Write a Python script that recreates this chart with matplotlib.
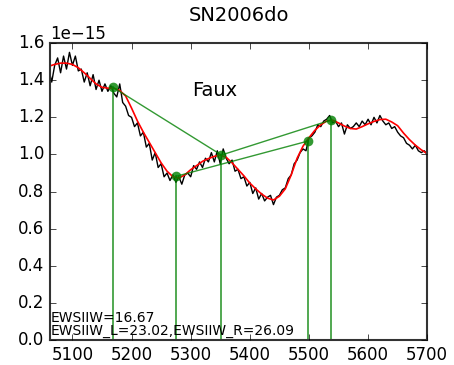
import numpy as np
import matplotlib
matplotlib.use('Agg')
import matplotlib.pyplot as plt

plt.style.use('classic')

# observed spectrum (flux in units of 1e-15), 5 A sampling
wave = np.arange(5060, 5701, 5)
flux = [1.46, 1.39, 1.48, 1.52, 1.44, 1.53, 1.46, 1.55, 1.48, 1.53,
        1.45, 1.46, 1.39, 1.44, 1.37, 1.43, 1.35, 1.40, 1.34, 1.38,
        1.34, 1.37, 1.33, 1.31, 1.38, 1.28, 1.26, 1.21, 1.20, 1.15,
        1.17, 1.10, 1.12, 1.04, 1.06, 0.97, 1.01, 0.93, 0.95, 0.88,
        0.90, 0.86, 0.89, 0.85, 0.88, 0.84, 0.89, 0.90, 0.88, 0.94,
        0.92, 0.96, 0.93, 0.98, 0.96, 1.01, 0.96, 1.02, 0.95, 1.03,
        0.98, 0.95, 0.97, 0.91, 0.92, 0.87, 0.88, 0.83, 0.85, 0.79,
        0.82, 0.76, 0.79, 0.75, 0.77, 0.78, 0.73, 0.77, 0.78, 0.81,
        0.82, 0.87, 0.89, 0.95, 0.97, 1.01, 1.03, 1.02, 1.09, 1.10,
        1.12, 1.16, 1.15, 1.18, 1.19, 1.21, 1.17, 1.18, 1.15, 1.17,
        1.11, 1.16, 1.14, 1.15, 1.17, 1.15, 1.18, 1.16, 1.19, 1.16,
        1.20, 1.17, 1.21, 1.18, 1.16, 1.17, 1.14, 1.15, 1.12, 1.10,
        1.09, 1.06, 1.05, 1.03, 1.05, 1.02, 1.01, 1.02, 1.00]

# smoothed fit, 10 A sampling
wave_fit = np.arange(5060, 5701, 10)
flux_fit = [1.475, 1.485, 1.492, 1.492, 1.485, 1.467, 1.44, 1.41, 1.38, 1.362,
            1.357, 1.357, 1.345, 1.315, 1.25, 1.18, 1.12, 1.065, 1.01, 0.955,
            0.91, 0.88, 0.873, 0.89, 0.918, 0.94, 0.963, 0.978, 0.99, 0.997,
            0.985, 0.955, 0.92, 0.885, 0.846, 0.815, 0.787, 0.765, 0.755, 0.775,
            0.815, 0.89, 0.98, 1.045, 1.09, 1.13, 1.16, 1.18, 1.185, 1.17,
            1.153, 1.14, 1.137, 1.15, 1.165, 1.178, 1.188, 1.19, 1.175, 1.155,
            1.115, 1.08, 1.05, 1.025, 1.005]

# continuum points and the pseudo-continuum segments joining them
pts_w = [5168, 5276, 5352, 5498, 5537]
pts_f = [1.363, 0.883, 0.997, 1.072, 1.185]
segments = [(0, 2), (1, 3), (2, 4)]

ew_text = 'EWSIIW=16.67\nEWSIIW_L=23.02,EWSIIW_R=26.09'

scale = 1e-15
flux = np.array(flux) * scale
flux_fit = np.array(flux_fit) * scale
pts_f = np.array(pts_f) * scale

fig = plt.figure(figsize=(4.54, 3.65), dpi=100, facecolor='white')
ax = fig.add_axes([0.110, 0.068, 0.831, 0.814])

ax.plot(wave, flux, color='k', lw=1.0)
ax.plot(wave_fit, flux_fit, color='r', lw=1.2)

for i, j in segments:
    ax.plot([pts_w[i], pts_w[j]], [pts_f[i], pts_f[j]], color='g', lw=1.0, alpha=0.8)
for w, f in zip(pts_w, pts_f):
    ax.plot([w, w], [0, f], color='g', lw=1.2, alpha=0.8)
ax.plot(pts_w, pts_f, 'o', color='g', ms=7, mec='none', alpha=0.8)

ax.text(5302, 1.347 * scale, 'Faux', fontsize=14, va='center', ha='left')
ax.text(5063, 0.01 * scale, ew_text, fontsize=10, va='bottom', ha='left',
        linespacing=0.95)

ax.set_xlim(5062, 5700)
ax.set_ylim(0, 1.6 * scale)
ax.set_xticks(np.arange(5100, 5701, 100))
ax.set_yticks(np.arange(0, 1.61, 0.2) * scale)
ax.tick_params(labelsize=12)
ax.yaxis.get_offset_text().set_fontsize(12)
for sp in ax.spines.values():
    sp.set_linewidth(1.5)
    sp.set_color('#333333')
ax.set_title('SN2006do', fontsize=14, pad=16)

fig.savefig('out.png', dpi=100, facecolor='white')
